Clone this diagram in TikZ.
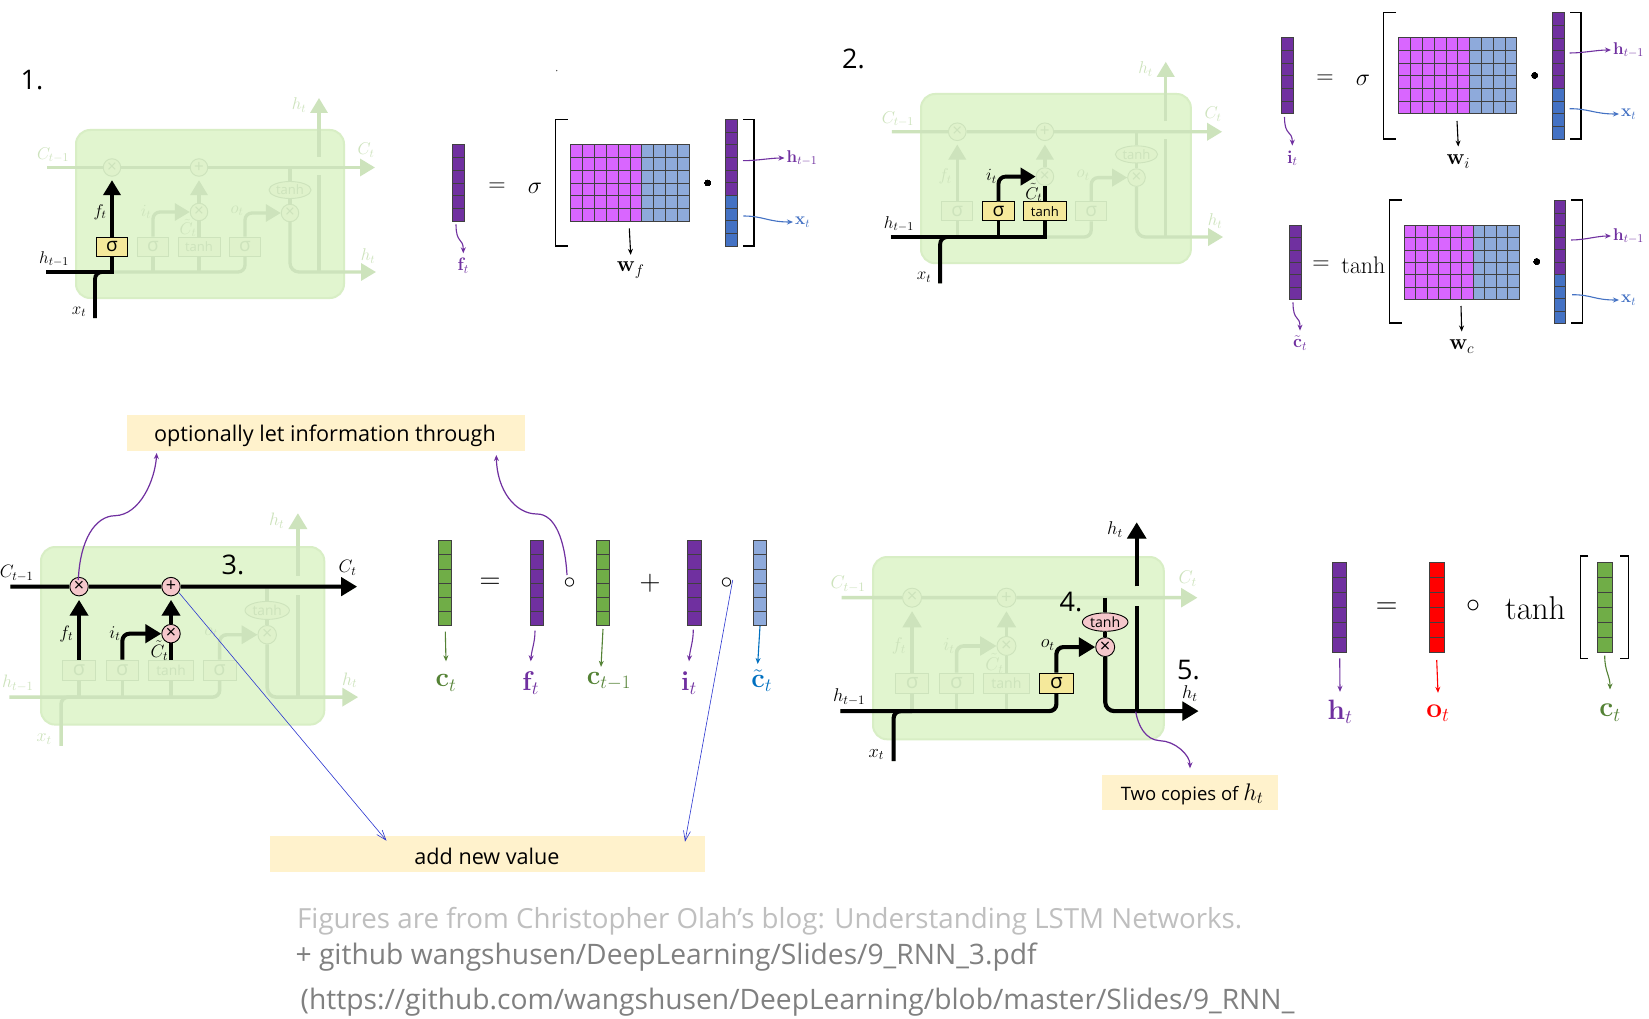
\documentclass[tikz,border=0pt]{standalone}
\usepackage{fix-cm}
\usepackage{amsmath}
\usepackage[no-math]{fontspec}
\setmainfont{Open Sans}
\usetikzlibrary{arrows.meta,calc,shapes.geometric}

\definecolor{cellgreen}{HTML}{E1F5CF}
\definecolor{cellrim}{HTML}{D8EEC5}
\definecolor{faintink}{HTML}{CDE3BC}
\definecolor{faintgate}{HTML}{DFF2CB}
\definecolor{gateyellow}{HTML}{F5E99B}
\definecolor{oppink}{HTML}{F5C7CB}
\definecolor{notebg}{HTML}{FFF2CC}
\definecolor{vecpurple}{HTML}{7030A0}
\definecolor{matpurple}{HTML}{D966FF}
\definecolor{vecblue}{HTML}{4472C4}
\definecolor{lightblue}{HTML}{8EAADB}
\definecolor{vecgreen}{HTML}{70AD47}
\definecolor{labgreen}{HTML}{548235}
\definecolor{labblue}{HTML}{0070C0}
\definecolor{thinblue}{HTML}{2A35D0}

\newcommand{\fs}[1]{\fontsize{#1}{#1}\selectfont}
\def\cellscale{1}

\tikzset{
  cellat/.style 2 args={shift={(#1)},scale=#2,every node/.append style={scale=#2},
    /utils/exec={\def\cellscale{#2}}},
  cellbody/.style={rectangle,rounded corners=14pt,fill=cellgreen,draw=cellrim,line width=2pt,
    minimum width=268pt,minimum height=168pt,inner sep=0pt},
  faintline/.style={draw=faintink,line width=3.3pt*\cellscale},
  hotline/.style={draw=black,line width=3.8pt*\cellscale},
  faintflow/.style={faintline,-{Triangle[length=15pt,width=17pt,scale=\cellscale]}},
  hotflow/.style={hotline,-{Triangle[length=15pt,width=17pt,scale=\cellscale]}},
  faintlabel/.style={text=faintink,inner sep=0pt,font=\fs{17}},
  hotlabel/.style={text=black,inner sep=0pt,font=\fs{17}},
  faintbox/.style={rectangle,fill=faintgate,draw=faintink,line width=0.9pt,text=faintink,
    minimum height=19pt,inner sep=0pt},
  hotbox/.style={rectangle,fill=gateyellow,draw=black,line width=0.9pt,text=black,
    minimum height=19pt,inner sep=0pt},
  faintop/.style={fill=faintgate,draw=faintink,line width=0.9pt,text=faintink,inner sep=0pt},
  hotop/.style={fill=oppink,draw=black,line width=0.9pt,text=black,inner sep=0pt},
  roundop/.style={circle,minimum size=17.5pt,font=\fs{17}},
  tanhop/.style={ellipse,minimum width=42pt,minimum height=17pt,font=\fs{13}},
  % what a panel lights up is switched in its scope
  tagcin/.style=faintlabel, tagcout/.style=faintlabel, taghin/.style=faintlabel,
  taghout/.style=faintlabel, taghup/.style=faintlabel, tagx/.style=faintlabel,
  tagf/.style=faintlabel, tagi/.style=faintlabel, tagc/.style=faintlabel, tago/.style=faintlabel,
  gatefa/.style=faintbox, gatefb/.style=faintbox, gatetb/.style=faintbox, gatefc/.style=faintbox,
  opma/.style=faintop, opad/.style=faintop, opmb/.style=faintop, opmc/.style=faintop, optn/.style=faintop,
  gridline/.style={draw=black!75,line width=0.8pt},
  brk/.style={draw=black,line width=1.3pt},
  tagarrow/.style={line width=1.1pt,-{Stealth[length=6pt,width=5pt]}},
  % a label's box reaches up to where its arrow stops
  vlab/.style={inner sep=0pt,minimum height=#1},
  notebox/.style={rectangle,fill=notebg,inner sep=0pt},
  numtag/.style={font=\fs{27},text=black,inner sep=0pt},
  eqsign/.style={inner sep=0pt,text=black},
  thinarrow/.style={thinblue,line width=0.6pt,-{Straight Barb[length=10pt,width=7pt]}},
  curvearrow/.style={vecpurple,line width=1.2pt,-{Stealth[length=6pt,width=5pt]}}
}

\newcommand{\lstmparts}{%
  \node[cellbody] (body) at (134,84) {};
  \coordinate (cin) at (-29,37.5);
  \coordinate (cout) at (299,37.5);
  \coordinate (hin) at (-30,142);
  \coordinate (hout) at (300,142);
  \coordinate (xin) at (19,188);
  \coordinate (htop) at (243,-32);
  \coordinate (gapa) at (243,27);
  \coordinate (gapb) at (243,45);
  \coordinate (hjoin) at (243,142);
  \coordinate (cjoin) at (214,37.5);
  \node[roundop,opma] (mula) at (36,37.5) {×};
  \node[roundop,opad] (adda) at (123,37.5) {+};
  \node[roundop,opmb] (mulb) at (123,82) {×};
  \node[roundop,opmc] (mulc) at (214,83) {×};
  \node[tanhop,optn] (tanhc) at (214,60) {tanh};
  \node[gatefa,minimum width=31pt,font=\fs{19}] (siga) at (36,116.5) {σ};
  \node[gatefb,minimum width=31pt,font=\fs{19}] (sigb) at (77,116.5) {σ};
  \node[gatetb,minimum width=42pt,font=\fs{13}] (tanhb) at (123,116.5) {tanh};
  \node[gatefc,minimum width=31pt,font=\fs{19}] (sigc) at (169,116.5) {σ};
  \coordinate (xjoin) at (siga |- hin);
  % faded wiring
  \draw[faintline] (cin) -- (mula) -- (adda);
  \draw[faintflow] (adda) -- (cout);
  \draw[faintline,rounded corners=7pt] (hin) -| (sigc.south);
  \draw[faintline,rounded corners=7pt] (xin) |- (xjoin);
  \foreach \g in {siga,sigb,tanhb}
    \draw[faintline] (\g.south) -- (\g |- hin);
  \draw[faintflow,shorten >=3.5pt] (siga.north) -- (mula.south);
  \draw[faintflow,shorten >=3.5pt] (mulb.north) -- (adda.south);
  \draw[faintline] (tanhb.north) -- (mulb.south);
  \draw[faintflow,rounded corners=7pt] (sigb.north) |- (mulb.west);
  \draw[faintflow,rounded corners=7pt] (sigc.north) |- (mulc.west);
  \draw[faintline] (cjoin) -- (tanhc.north);
  \draw[faintline] (tanhc.south) -- (mulc.north);
  \draw[faintflow,rounded corners=9pt] (mulc.south) |- (hout);
  \draw[faintline] (hjoin) -- (gapb);
  \draw[faintflow] (gapa) -- (htop);
  % cell labels
  \node[tagcin] (lcin) at (-23,25) {$C_{t-1}$};
  \node[tagcout] (lcout) at (290,20) {$C_t$};
  \node[taghin] (lhin) at (-22,129) {$h_{t-1}$};
  \node[taghout] (lhout) at (292,126) {$h_t$};
  \node[taghup] (lhup) at (223,-25) {$h_t$};
  \node[tagx] (lx) at (3,182) {$x_t$};
  \node[tagf] (lf) at (24,82) {$f_t$};
  \node[tagi] (li) at (70,82) {$i_t$};
  \node[tagc] (lc) at (112,98) {$\tilde{C}_t$};
  \node[tago] (lo) at (161,81) {$o_t$};
}

\newcommand{\barvec}[6]{% left, top, width, height, rows, colour
  \foreach \r in {1,...,#5}
    \draw[gridline,fill=#6] ({#1},{#2+(\r-1)*(#4)/#5}) rectangle ++({#3},{(#4)/#5});
}
\newcommand{\hxvec}[4]{% six rows of h, four rows of x
  \barvec{#1}{#2}{#3}{(#4)*0.6}{6}{vecpurple}
  \barvec{#1}{#2+(#4)*0.6}{#3}{(#4)*0.4}{4}{vecblue}
}
\newcommand{\wmatrix}[4]{%
  \foreach \c in {0,...,5}
    \barvec{#1+\c*(#3)*0.1}{#2}{(#3)*0.1}{#4}{6}{matpurple}
  \foreach \c in {6,...,9}
    \barvec{#1+\c*(#3)*0.1}{#2}{(#3)*0.1}{#4}{6}{lightblue}
}
\newcommand{\lbrk}[4]{\draw[brk] (#2,#3) -- (#1,#3) -- (#1,#4) -- (#2,#4);}
\newcommand{\rbrk}[4]{\draw[brk] (#1,#3) -- (#2,#3) -- (#2,#4) -- (#1,#4);}

\begin{document}
\begin{tikzpicture}[x=1pt,y=-1pt]
  \useasboundingbox (0,0) rectangle (1649,1019);
  \fill[white] (0,0) rectangle (1649,1019);

  %panel 1: forget gate
  \begin{scope}[cellat={76,130}{1},tagf/.style=hotlabel,taghin/.style=hotlabel,tagx/.style=hotlabel,gatefa/.style=hotbox]
    \lstmparts
    \draw[hotline] (hin) -| (siga.south);
    \draw[hotline,rounded corners=7pt] (xin) |- (xjoin);
    \draw[hotflow,shorten >=3.5pt] (siga.north) -- (mula.south);
  \end{scope}

  %panel 2: input gate
  \begin{scope}[cellat={921,94}{1.007},tagi/.style=hotlabel,tagc/.style=hotlabel,taghin/.style=hotlabel,tagx/.style=hotlabel,
      gatefb/.style=hotbox,gatetb/.style=hotbox]
    \lstmparts
    \draw[hotline] (hin) -| (tanhb.south);
    \draw[hotline] (sigb.south) -- (sigb |- hin);
    \draw[hotline,rounded corners=7pt] (xin) |- (xjoin);
    \draw[hotflow,rounded corners=7pt] (sigb.north) |- (mulb.west);
    \draw[hotline] (tanhb.north) -- (mulb.south);
  \end{scope}

  %panel 3: cell state
  \begin{scope}[cellat={41,547}{1.057},tagcin/.style=hotlabel,tagcout/.style=hotlabel,tagf/.style=hotlabel,
      tagi/.style=hotlabel,tagc/.style=hotlabel,opma/.style=hotop,opad/.style=hotop,opmb/.style=hotop]
    \lstmparts
    \draw[hotline] (cin) -- (mula) -- (adda);
    \draw[hotflow] (adda) -- (cout);
    \draw[hotflow,shorten >=3.5pt] (siga.north) -- (mula.south);
    \draw[hotflow,shorten >=3.5pt] (mulb.north) -- (adda.south);
    \draw[hotline] (tanhb.north) -- (mulb.south);
    \draw[hotflow,rounded corners=7pt] (sigb.north) |- (mulb.west);
  \end{scope}

  %panel 4: output
  \begin{scope}[cellat={873,557}{1.085},taghin/.style=hotlabel,tagx/.style=hotlabel,tago/.style=hotlabel,
      taghup/.style=hotlabel,taghout/.style=hotlabel,gatefc/.style=hotbox,opmc/.style=hotop,optn/.style=hotop]
    \lstmparts
    \draw[hotline,rounded corners=7pt] (hin) -| (sigc.south);
    \draw[hotline,rounded corners=7pt] (xin) |- (xjoin);
    \draw[hotflow,rounded corners=7pt] (sigc.north) |- (mulc.west);
    \draw[hotline] (cjoin) -- (tanhc.north);
    \draw[hotline] (tanhc.south) -- (mulc.north);
    \draw[hotflow,rounded corners=9pt] (mulc.south) |- (hout);
    \draw[hotline] (hjoin) -- (gapb);
    \draw[hotflow] (gapa) -- (htop);
  \end{scope}

  %step numbers
  \node[numtag] (numa) at (32,80) {1.};
  \node[numtag] (numb) at (853.5,58.5) {2.};
  \node[numtag] (numc) at (233,565) {3.};
  \node[numtag] (numd) at (1071,601.5) {4.};
  \node[numtag] (nume) at (1188.5,670) {5.};
  \fill[black!70] (556.7,70.6) circle (0.7);

  %equation for f
  \barvec{452.3}{144.3}{12.3}{77.4}{6}{vecpurple}
  \node[eqsign,font=\fs{24}] (eqa) at (497,187) {$=$};
  \node[eqsign,font=\fs{24}] (sgma) at (535,188) {$\sigma$};
  \lbrk{555.7}{567.7}{119.3}{246}
  \wmatrix{570.7}{144.3}{118.6}{77.4}
  \fill (707.7,183) circle (3);
  \hxvec{725.3}{119.3}{12}{126.7}
  \rbrk{743}{754}{119.3}{246}
  \node[text=vecpurple,font=\fs{17},anchor=west,inner sep=2pt] (lha) at (784.5,158) {$\mathbf{h}_{t-1}$};
  \node[text=vecblue,font=\fs{17},anchor=west,inner sep=2pt] (lxa) at (793,222) {$\mathbf{x}_t$};
  \node[text=vecpurple,font=\fs{18},vlab=25pt] (lfa) at (463.3,266) {$\mathbf{f}_t$};
  \node[text=black,font=\fs{22},vlab=30pt] (lwa) at (630.7,270) {$\mathbf{w}_f$};
  \coordinate (sha) at (743,160.7);
  \coordinate (sxa) at (743.3,216);
  \coordinate (sfa) at (456,224.3);
  \coordinate (swa) at (629.3,228.3);
  \draw[tagarrow,vecpurple] (sha) .. controls +(14,0) and +(-14,0) .. (lha.west);
  \draw[tagarrow,vecblue] (sxa) .. controls +(20,0) and +(-25,0) .. (lxa.west);
  \draw[tagarrow,vecpurple] (sfa) .. controls +(0,20) and +(0,-16) .. (lfa.north);
  \draw[tagarrow,black] (swa) -- (lwa.north);

  %equation for i
  \barvec{1281.3}{37.7}{12.3}{76}{6}{vecpurple}
  \node[eqsign,font=\fs{24}] (eqb) at (1325,79) {$=$};
  \node[eqsign,font=\fs{24}] (sgmb) at (1363,80) {$\sigma$};
  \lbrk{1383.7}{1396}{12.7}{139}
  \wmatrix{1398.7}{37.7}{118}{76}
  \fill (1534.7,75.5) circle (3);
  \hxvec{1552}{12.7}{12}{126.3}
  \rbrk{1570}{1581}{12.7}{139}
  \node[text=vecpurple,font=\fs{17},anchor=west,inner sep=2pt] (lhb) at (1611,50) {$\mathbf{h}_{t-1}$};
  \node[text=vecblue,font=\fs{17},anchor=west,inner sep=2pt] (lxb) at (1619,114) {$\mathbf{x}_t$};
  \node[text=vecpurple,font=\fs{18},vlab=25pt] (lib) at (1292.3,158.3) {$\mathbf{i}_t$};
  \node[text=black,font=\fs{22},vlab=30pt] (lwb) at (1458.3,161.7) {$\mathbf{w}_i$};
  \coordinate (shb) at (1569.5,53);
  \coordinate (sxb) at (1569.5,108.7);
  \coordinate (sib) at (1284.5,117);
  \coordinate (swb) at (1457,121);
  \draw[tagarrow,vecpurple] (shb) .. controls +(14,0) and +(-14,0) .. (lhb.west);
  \draw[tagarrow,vecblue] (sxb) .. controls +(20,0) and +(-25,0) .. (lxb.west);
  \draw[tagarrow,vecpurple] (sib) .. controls +(0,20) and +(0,-16) .. (lib.north);
  \draw[tagarrow,black] (swb) -- (lwb.north);

  %equation for c tilde
  \barvec{1289.3}{225.3}{12}{74}{6}{vecpurple}
  \node[eqsign,font=\fs{24}] (eqc) at (1321,265) {$=$};
  \node[eqsign,font=\fs{24}] (tanhd) at (1363.3,265) {$\mathrm{tanh}$};
  \lbrk{1389.3}{1401.7}{200}{323}
  \wmatrix{1404.3}{225.3}{115}{74}
  \fill (1536.7,261.7) circle (3);
  \hxvec{1554}{200.7}{11.7}{122.6}
  \rbrk{1571.3}{1582.7}{200}{323}
  \node[text=vecpurple,font=\fs{17},anchor=west,inner sep=2pt] (lhc) at (1611,236) {$\mathbf{h}_{t-1}$};
  \node[text=vecblue,font=\fs{17},anchor=west,inner sep=2pt] (lxc) at (1619,300) {$\mathbf{x}_t$};
  \node[text=vecpurple,font=\fs{18},vlab=25pt] (lcc) at (1300,343.3) {$\tilde{\mathbf{c}}_t$};
  \node[text=black,font=\fs{22},vlab=30pt] (lwc) at (1461.7,346.7) {$\mathbf{w}_c$};
  \coordinate (shc) at (1571,240);
  \coordinate (sxc) at (1572,294.7);
  \coordinate (scc) at (1293,302.3);
  \coordinate (swc) at (1461,306);
  \draw[tagarrow,vecpurple] (shc) .. controls +(14,0) and +(-14,0) .. (lhc.west);
  \draw[tagarrow,vecblue] (sxc) .. controls +(20,0) and +(-25,0) .. (lxc.west);
  \draw[tagarrow,vecpurple] (scc) .. controls +(0,20) and +(0,-16) .. (lcc.north);
  \draw[tagarrow,black] (swc) -- (lwc.north);

  %equation for c
  \barvec{438.3}{540.7}{13.4}{84.6}{6}{vecgreen}
  \node[eqsign,font=\fs{29}] (eqd) at (490,583.3) {$=$};
  \barvec{530.3}{540.7}{13.4}{84.6}{6}{vecpurple}
  \node[eqsign,font=\fs{24}] (hada) at (569.7,582.7) {$\circ$};
  \barvec{596}{540.7}{13.3}{84.6}{6}{vecgreen}
  \node[eqsign,font=\fs{29}] (plusd) at (650,583.3) {$+$};
  \barvec{687.7}{540.7}{14}{84.6}{6}{vecpurple}
  \node[eqsign,font=\fs{24}] (hadb) at (726.7,582.7) {$\circ$};
  \barvec{753.3}{540.7}{13.4}{84.6}{6}{lightblue}
  \node[text=labgreen,font=\fs{27},vlab=43pt] (lcd) at (446,683) {$\mathbf{c}_t$};
  \node[text=vecpurple,font=\fs{27},vlab=43pt] (lfd) at (530.7,683) {$\mathbf{f}_t$};
  \node[text=labgreen,font=\fs{27},vlab=28pt] (lpd) at (609,681) {$\mathbf{c}_{t-1}$};
  \node[text=vecpurple,font=\fs{27},vlab=43pt] (lid) at (689,683) {$\mathbf{i}_t$};
  \node[text=labblue,font=\fs{27},vlab=33pt] (ltd) at (761.7,680.7) {$\tilde{\mathbf{c}}_t$};
  \coordinate (scd) at (445.3,631.7);
  \coordinate (sfd) at (535,630.7);
  \coordinate (spd) at (603,629);
  \coordinate (sid) at (693.3,629.7);
  \coordinate (std) at (760,626);
  \draw[tagarrow,labgreen] (scd) -- (lcd.north);
  \draw[tagarrow,vecpurple] (sfd) .. controls +(0,12) and +(1,-12) .. (lfd.north);
  \draw[tagarrow,labgreen] (spd) -- ($(lpd.north)+(-8,0)$);
  \draw[tagarrow,vecpurple] (sid) .. controls +(0,12) and +(1,-12) .. (lid.north);
  \draw[tagarrow,labblue] (std) -- ($(ltd.north)+(-4,0)$);

  %equation for h
  \barvec{1332}{562}{14.7}{90.7}{6}{vecpurple}
  \node[eqsign,font=\fs{30}] (eqe) at (1386.7,608.3) {$=$};
  \barvec{1429.7}{562}{14.6}{90.7}{6}{red}
  \node[eqsign,font=\fs{28}] (hade) at (1473,606.7) {$\circ$};
  \node[eqsign,font=\fs{33}] (tanhe) at (1535.3,607.7) {$\mathrm{tanh}$};
  \lbrk{1580.7}{1588.3}{556}{658.7}
  \barvec{1597.3}{562}{14.7}{90.7}{6}{vecgreen}
  \rbrk{1620}{1628.7}{556}{658.7}
  \node[text=vecpurple,font=\fs{28},vlab=40pt] (lhe) at (1340,712) {$\mathbf{h}_t$};
  \node[text=red,font=\fs{28},vlab=40pt] (loe) at (1438,713) {$\mathbf{o}_t$};
  \node[text=labgreen,font=\fs{28},vlab=46pt] (lce) at (1610,712.7) {$\mathbf{c}_t$};
  \coordinate (she) at (1339.7,658.3);
  \coordinate (soe) at (1436.7,660);
  \coordinate (sce) at (1604.7,655.7);
  \draw[tagarrow,vecpurple] (she) -- (lhe.north);
  \draw[tagarrow,red] (soe) -- (loe.north);
  \draw[tagarrow,labgreen] (sce) .. controls +(0,16) and +(0,-14) .. (lce.north);

  %notes
  \node[notebox,minimum width=397.7pt,minimum height=36pt,anchor=north west] (noteopt) at (127,415) {};
  \node[inner sep=0pt,anchor=west,font=\fs{21.6}] (noteopttext) at (154,435.5) {optionally let information through};
  \node[notebox,minimum width=435pt,minimum height=35.7pt,anchor=north west] (noteadd) at (269.5,836) {};
  \node[inner sep=0pt,font=\fs{21.6}] (noteaddtext) at (487,856) {add new value};
  \node[notebox,minimum width=175.7pt,minimum height=35.7pt,anchor=north west] (notetwo) at (1102,774.3) {};
  \node[inner sep=0pt,font=\fs{18.5}] (notetwotext) at (1192,794) {Two copies of {\fs{24}$h_t$}};

  %pointers to the notes
  \coordinate (toopta) at (156.7,453);
  \coordinate (tooptb) at (496.3,455);
  \coordinate (fromhad) at (567,575);
  \coordinate (fromhadb) at (732.7,580);
  \coordinate (toadda) at (386.5,840.7);
  \coordinate (toaddb) at (685,841.7);
  \coordinate (fromtwo) at (1135.7,711.7);
  \coordinate (totwo) at (1190,768.3);
  \coordinate (frommul) at (78.3,580);
  \coordinate (fromadd) at (179,592.7);
  \draw[curvearrow] (frommul) .. controls (80,540) and (95,516) .. (115,515.7) .. controls (140,515) and (155,480) .. (toopta);
  \draw[curvearrow] (fromhad) .. controls (565,540) and (555,514) .. (537,514) .. controls (515,514) and (497,490) .. (tooptb);
  \draw[curvearrow] (fromtwo) .. controls (1138,725) and (1145,740) .. (1160,740.7) .. controls (1175,741) and (1190,755) .. (totwo);
  \draw[thinarrow] (fromadd) -- (toadda);
  \draw[thinarrow] (fromhadb) -- (toaddb);

  %source lines
  \node[inner sep=0pt,anchor=west,text=black!25,font=\fs{27.7}] (srca) at (297,921) {Figures are from Christopher Olah’s blog: Understanding LSTM Networks.};
  \node[inner sep=0pt,anchor=west,text=black!50,font=\fs{28.2}] (srcb) at (295.4,957.5) {+ github wangshusen/DeepLearning/Slides/9\_RNN\_3.pdf};
  \node[inner sep=0pt,anchor=west,text=black!50,font=\fs{28.2}] (srcc) at (300.5,1002) {(https://github.com/wangshusen/DeepLearning/blob/master/Slides/9\_RNN\_};
\end{tikzpicture}
\end{document}
